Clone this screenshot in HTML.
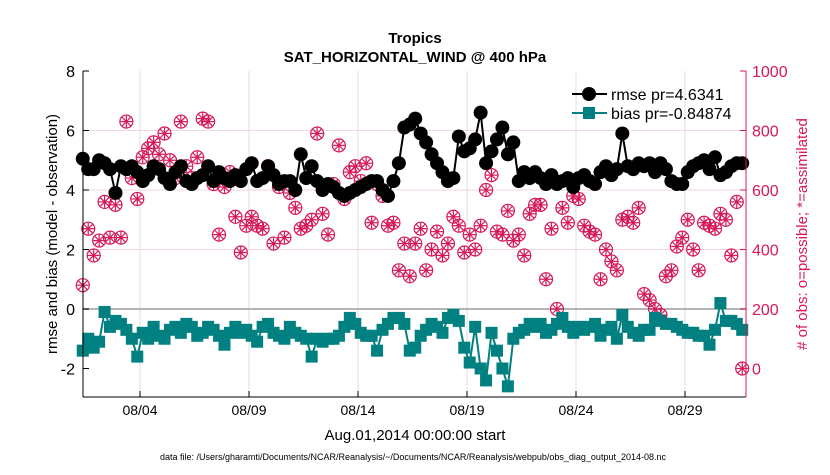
<!DOCTYPE html>
<html><head><meta charset="utf-8">
<style>
body{margin:0;background:#fff;}
svg text{font-family:"Liberation Sans",Arial,sans-serif;}
</style></head>
<body>
<svg id="chart" width="830" height="470" xmlns="http://www.w3.org/2000/svg">
<text x="415" y="43" text-anchor="middle" font-size="15" font-weight="bold">Tropics</text>
<text x="415" y="62" text-anchor="middle" font-size="15" font-weight="bold">SAT_HORIZONTAL_WIND @ 400 hPa</text>
<g id="grid"></g>
<g id="obs"></g>
<g id="rmse"></g>
<g id="bias"></g>
<g id="axes"></g>
<text x="415" y="440" text-anchor="middle" font-size="15">Aug.01,2014 00:00:00 start</text>
<text x="413" y="460" text-anchor="middle" font-size="9">data file: /Users/gharamti/Documents/NCAR/Reanalysis/~/Documents/NCAR/Reanalysis/webpub/obs_diag_output_2014-08.nc</text>
<text transform="translate(57,234) rotate(-90)" text-anchor="middle" font-size="15">rmse and bias (model - observation)</text>
<text transform="translate(807,234) rotate(-90)" text-anchor="middle" font-size="15" fill="#D6185A"># of obs: o=possible; *=assimilated</text>
<g>
<line x1="572" y1="94" x2="607" y2="94" stroke="#000" stroke-width="2"/>
<circle cx="589" cy="94" r="7" fill="#000"/>
<text x="611" y="100" font-size="16">rmse pr=4.6341</text>
<line x1="572" y1="113" x2="607" y2="113" stroke="#008080" stroke-width="2"/>
<rect x="583" y="107" width="12" height="12" fill="#008080"/>
<text x="611" y="119" font-size="16">bias pr=-0.84874</text>
</g>
</svg>
<script>
const dayTicks=[3,8,13,18,23,28];
const dayLabels=["08/04","08/09","08/14","08/19","08/24","08/29"];
const leftTicks=[-2,0,2,4,6,8];
const rightTicks=[0,200,400,600,800,1000];
const rmse=[5.05,4.7,4.7,5.0,4.9,4.7,3.9,
4.8,4.7,4.8,4.6,4.3,4.5,4.8,4.7,4.4,4.2,4.6,4.8,4.3,4.2,
4.4,4.5,4.8,4.3,4.6,4.4,4.3,4.5,4.3,4.7,4.9,4.3,4.4,4.8,4.5,4.2,4.3,4.3,4.0,
5.2,4.4,4.8,4.3,4.0,4.2,4.1,3.9,3.8,3.9,4.0,4.1,4.2,4.3,4.3,4.0,3.8,4.3,
4.9,6.1,6.2,6.4,5.9,5.6,5.2,4.9,4.6,4.3,4.4,5.8,5.3,5.4,5.7,6.6,4.9,5.3,5.7,6.1,5.2,
5.6,4.3,4.6,4.4,4.6,4.4,4.2,4.5,4.2,4.3,4.4,4.1,4.4,4.5,4.3,4.2,4.6,4.8,4.5,4.7,
5.9,4.8,4.7,4.9,4.8,4.9,4.6,4.9,4.7,4.3,4.2,4.2,4.6,4.8,4.9,5.0,4.7,5.1,4.5,4.6,4.8,4.9,4.9];
const bias=[-1.4,-1.0,-1.3,-1.1,-0.1,-0.6,-0.4,
-0.5,-0.7,-1.0,-1.6,-0.8,-1.0,-0.6,-0.9,-1.0,-0.7,-0.6,-0.8,-0.5,-0.6,
-0.9,-0.8,-0.6,-0.7,-0.9,-1.2,-0.8,-0.6,-0.8,-0.7,-0.9,-1.1,-0.6,-0.5,-0.8,-0.9,-1.0,-0.6,-0.8,
-0.9,-1.0,-1.6,-1.0,-1.1,-1.0,-1.0,-0.9,-0.6,-0.3,-0.5,-0.8,-0.9,-0.9,-1.4,-0.7,-0.5,-0.3,
-0.3,-0.5,-1.4,-1.3,-0.9,-0.7,-0.5,-0.6,-0.8,-0.3,-0.2,-0.4,-1.3,-1.8,-0.6,-2.0,-2.4,-0.8,-1.4,-2.0,-2.6,
-1.0,-0.8,-0.7,-0.5,-0.6,-0.5,-0.8,-0.7,-0.5,-0.3,-0.6,-0.8,-0.6,-0.7,-0.6,-0.5,-0.9,-0.7,-0.6,-1.0,
-0.2,-0.6,-0.8,-0.9,-0.7,-0.7,-0.3,-0.4,-0.5,-0.5,-0.6,-0.7,-0.8,-0.8,-0.9,-0.9,-1.2,-0.7,0.2,-0.4,-0.4,-0.5,-0.7];
const nPossible=[280,470,380,430,560,440,550,440,830,640,570,710,740,760,720,790,700,640,830,680,640,
710,840,830,620,450,610,660,510,390,480,510,480,470,680,420,610,440,590,540,
470,480,500,790,520,450,620,750,570,660,680,630,690,490,620,580,480,490,
330,420,310,420,470,330,400,460,380,420,510,480,390,450,400,480,600,650,460,450,530,
430,450,380,520,550,550,300,470,200,540,490,580,570,480,460,450,300,400,360,330,
500,510,490,540,250,230,200,180,310,330,410,440,500,400,330,490,480,470,520,500,380,560,0];
const nAssim=nPossible.slice();

const NS="http://www.w3.org/2000/svg";
const L=83,R=746,T=71,B=397;
const t0=0.375,dt=0.25,dayX0=74.6,pxDay=21.8;
function xDay(d){return dayX0+d*pxDay;}
function xIdx(i){return xDay(t0+i*dt);}
function yL(v){return 309-v*29.75;}
function yR(c){return yL(c/100-2);}
function mk(tag,attrs,parent){const e=document.createElementNS(NS,tag);for(const k in attrs)e.setAttribute(k,attrs[k]);parent.appendChild(e);return e;}
const grid=document.getElementById('grid'),axes=document.getElementById('axes');
const MAG="#D6185A";
dayTicks.forEach((d,k)=>{const x=xDay(d);
 const g=mk('line',{x1:x,y1:T,x2:x,y2:B,stroke:'#dcdcdc','stroke-width':1},grid);
 
 
 mk('line',{x1:x,y1:B,x2:x,y2:B-6,stroke:'#000'},axes);
 const t=mk('text',{x:x,y:B+18,'text-anchor':'middle','font-size':14},axes);t.textContent=dayLabels[k];
 
 
});
rightTicks.forEach(c=>{const y=yR(c);
 if(c>0&&c<1000){const g=mk('line',{x1:L,y1:y,x2:R,y2:y,stroke:'#f0d6e0','stroke-width':1},grid);
 
 }
 mk('line',{x1:R,y1:y,x2:R-6,y2:y,stroke:MAG},axes);
 const t=mk('text',{x:R+6,y:y+6,'font-size':16,fill:MAG},axes);t.textContent=c;
 
 
});
leftTicks.forEach(v=>{const y=yL(v);
 mk('line',{x1:L,y1:y,x2:L+6,y2:y,stroke:'#000'},axes);
 const t=mk('text',{x:L-8,y:y+6,'text-anchor':'end','font-size':16},axes);t.textContent=v;
 
 
});
const z=mk('line',{x1:L,y1:yL(0),x2:R,y2:yL(0),stroke:'#b4b4b4','stroke-width':2},grid);


mk('line',{x1:L,y1:T,x2:L,y2:B,stroke:'#000'},axes);
mk('line',{x1:L,y1:B,x2:R,y2:B,stroke:'#000'},axes);
mk('line',{x1:R,y1:T,x2:R,y2:B,stroke:MAG},axes);
const og=document.getElementById('obs');
nPossible.forEach((c,i)=>{const x=xIdx(i),y=yR(c);
 const m=mk('circle',{cx:x,cy:y,r:6.5,fill:'none',stroke:MAG,'stroke-width':1.2},og);
 
 
});
nAssim.forEach((c,i)=>{const x=xIdx(i),y=yR(c);
 const g=mk('g',{stroke:MAG,'stroke-width':1.2},og);
 
 
 for(let a=0;a<4;a++){const ang=a*Math.PI/4,dx=6*Math.cos(ang),dy=6*Math.sin(ang);
  mk('line',{x1:x-dx,y1:y-dy,x2:x+dx,y2:y+dy},g);}
});
const rg=document.getElementById('rmse');
const rl=mk('polyline',{points:rmse.map((v,i)=>xIdx(i)+','+yL(v)).join(' '),fill:'none',stroke:'#000','stroke-width':2},rg);


rmse.forEach((v,i)=>{const m=mk('circle',{cx:xIdx(i),cy:yL(v),r:7,fill:'#000'},rg);
 
 });
const bg=document.getElementById('bias');
const bl=mk('polyline',{points:bias.map((v,i)=>xIdx(i)+','+yL(v)).join(' '),fill:'none',stroke:'#008080','stroke-width':2},bg);


bias.forEach((v,i)=>{const m=mk('rect',{x:xIdx(i)-6,y:yL(v)-6,width:12,height:12,fill:'#008080'},bg);
 
 });
</script>
</body></html>
